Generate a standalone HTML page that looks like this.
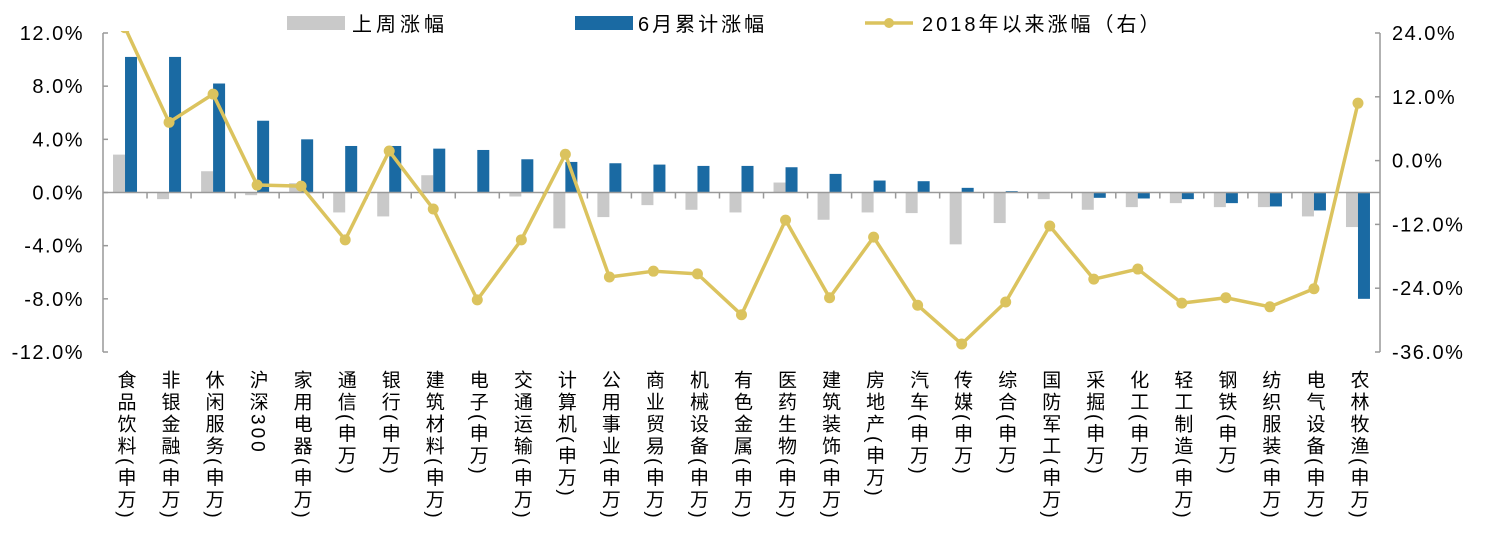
<!DOCTYPE html>
<html><head><meta charset="utf-8"><style>
body{margin:0;background:#fff;}
svg text{font-family:"Liberation Sans","Noto Sans CJK SC",sans-serif;}
</style></head><body>
<svg id="c" width="1497" height="534" xmlns="http://www.w3.org/2000/svg"></svg>
<script>
const categories=["食品饮料(申万)","非银金融(申万)","休闲服务(申万)","沪深300","家用电器(申万)","通信(申万)","银行(申万)","建筑材料(申万)","电子(申万)","交通运输(申万)","计算机(申万)","公用事业(申万)","商业贸易(申万)","机械设备(申万)","有色金属(申万)","医药生物(申万)","建筑装饰(申万)","房地产(申万)","汽车(申万)","传媒(申万)","综合(申万)","国防军工(申万)","采掘(申万)","化工(申万)","轻工制造(申万)","钢铁(申万)","纺织服装(申万)","电气设备(申万)","农林牧渔(申万)"];
const weekly=[2.85,-0.5,1.6,-0.2,0.7,-1.5,-1.8,1.3,0,-0.3,-2.7,-1.85,-0.95,-1.3,-1.5,0.75,-2.05,-1.5,-1.55,-3.9,-2.3,-0.5,-1.3,-1.1,-0.8,-1.1,-1.1,-1.8,-2.6];
const june=[10.2,10.2,8.2,5.4,4.0,3.5,3.5,3.3,3.2,2.5,2.3,2.2,2.1,2.0,2.0,1.9,1.4,0.9,0.85,0.35,0.1,0,-0.4,-0.45,-0.5,-0.8,-1.05,-1.35,-8.0];
const since2018=[25,7.2,12.5,-4.6,-4.8,-14.9,1.8,-9.1,-26.2,-14.9,1.2,-21.9,-20.8,-21.3,-29,-11.2,-25.8,-14.4,-27.2,-34.5,-26.6,-12.3,-22.3,-20.4,-26.8,-25.8,-27.5,-24.1,10.8];
const leftTicks=[12,8,4,0,-4,-8,-12];
const rightTicks=[24,12,0,-12,-24,-36];
const leftLabels=["12.0%","8.0%","4.0%","0.0%","-4.0%","-8.0%","-12.0%"];
const rightLabels=["24.0%","12.0%","0.0%","-12.0%","-24.0%","-36.0%"];

const svg=document.getElementById('c');const NS="http://www.w3.org/2000/svg";
const X0=103,X1=1380,Y0=33,Y1=352;
const bw=(X1-X0)/categories.length;
const yL=v=>Y0+(12-v)/24*(Y1-Y0);
const yR=v=>Y0+(24-v)/60*(Y1-Y0);
const cx=i=>X0+(i+0.5)*bw;
function mk(t,a,p){const e=document.createElementNS(NS,t);for(const k in a)e.setAttribute(k,a[k]);(p||svg).appendChild(e);return e;}
let e=mk('line',{x1:X0,y1:Y0,x2:X0,y2:Y1,stroke:'#999','stroke-width':1.5});

e=mk('line',{x1:X1,y1:Y0,x2:X1,y2:Y1,stroke:'#999','stroke-width':1.5});

leftTicks.forEach((v,i)=>{const y=yL(v);
 mk('line',{x1:X0,y1:y,x2:X0+5,y2:y,stroke:'#999','stroke-width':1.5});
 const t=mk('text',{x:84,y:y+7,'text-anchor':'end','font-size':20,'letter-spacing':1.5,fill:'#000'});t.textContent=leftLabels[i];
 });
rightTicks.forEach((v,i)=>{const y=yR(v);
 mk('line',{x1:X1-5,y1:y,x2:X1,y2:y,stroke:'#999','stroke-width':1.5});
 const t=mk('text',{x:1392,y:y+7,'font-size':20,'letter-spacing':1.5,fill:'#000'});t.textContent=rightLabels[i];
 });
categories.forEach((c,i)=>{
 const g=weekly[i],b=june[i],z=yL(0);
 let r=mk('rect',{x:cx(i)-12,y:Math.min(z,yL(g)),width:12,height:Math.abs(yL(g)-z),fill:'#C9C9C9'});
 
 r=mk('rect',{x:cx(i),y:Math.min(z,yL(b)),width:12,height:Math.abs(yL(b)-z),fill:'#1A6AA3'});
 
});
const z=yL(0);
e=mk('line',{x1:X0,y1:z,x2:X1,y2:z,stroke:'#999','stroke-width':1.5});

for(let i=1;i<categories.length;i++){mk('line',{x1:X0+i*bw,y1:z,x2:X0+i*bw,y2:z+6,stroke:'#999','stroke-width':1.5});}
const defs=mk('defs',{});const cp=mk('clipPath',{id:'clp'},defs);mk('rect',{x:0,y:Y0-2,width:1497,height:400},cp);
const lg=mk('g',{'clip-path':'url(#clp)'});
const pts=since2018.map((v,i)=>cx(i)+','+yR(v)).join(' ');
e=mk('polyline',{points:pts,fill:'none',stroke:'#DBC35E','stroke-width':3.5,'stroke-linejoin':'round'},lg);

since2018.forEach((v,i)=>{const c=mk('circle',{cx:cx(i),cy:yR(v),r:5.5,fill:'#DBC35E'},lg);
 });
categories.forEach((c,i)=>{const t=mk('text',{x:cx(i),y:370,'font-size':19,fill:'#000','letter-spacing':3});
 t.setAttribute('style','writing-mode:vertical-rl');t.textContent=c;
 });
const lgd=mk('g',{});
mk('rect',{x:287,y:16,width:58,height:14,fill:'#C9C9C9'},lgd);
let t=mk('text',{x:352,y:31,'font-size':20,'letter-spacing':4},lgd);t.textContent='上周涨幅';
mk('rect',{x:575,y:16,width:58,height:14,fill:'#1A6AA3'},lgd);
t=mk('text',{x:638,y:31,'font-size':20,'letter-spacing':3},lgd);t.textContent='6月累计涨幅';
mk('line',{x1:865,y1:23,x2:913,y2:23,stroke:'#DBC35E','stroke-width':3.5},lgd);
mk('circle',{cx:889,cy:23,r:5,fill:'#DBC35E'},lgd);
t=mk('text',{x:922,y:31,'font-size':20,'letter-spacing':3},lgd);t.textContent='2018年以来涨幅（右）';
</script>
</body></html>
